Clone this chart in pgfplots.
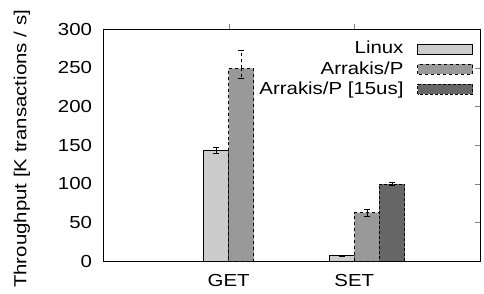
\documentclass[border=0pt]{standalone}
\usepackage{pgfplots}
\pgfplotsset{compat=1.18}
\usepackage{fontspec}
\setmainfont{Liberation Sans}[FakeStretch=1.17]
\definecolor{cLin}{HTML}{CCCCCC}
\definecolor{cArr}{HTML}{999999}
\definecolor{cArrF}{HTML}{666666}
\newcommand{\fs}{\fontsize{17.5}{20}\selectfont}
\begin{document}
\fs
\begin{tikzpicture}
\begin{axis}[
  at={(0,0)}, anchor=south west,
  scale only axis, width=377bp, height=232bp,
  xmin=0, xmax=3, ymin=0, ymax=300,
  xtick={1,2}, xticklabels={GET,SET},
  ytick={0,50,100,150,200,250,300},
  xtick pos=right, xticklabel pos=left,
  ytick pos=right, yticklabel pos=left,
  tick align=inside, major tick length=5bp,
  /pgf/number format/assume math mode=true,
  tick label style={font=\fs},
  yticklabel style={xshift=-5bp},
  xticklabel style={yshift=-2bp},
  ylabel={Throughput [K transactions / s]},
  ylabel style={at={(axis description cs:-0.215,0.483)}, anchor=center, font=\fs},
  axis line style={line width=0.9pt},
  ybar, bar width=25.1bp,
  legend cell align=right,
  legend plot pos=right,
  legend style={draw=none, fill=none, at={(axis description cs:0.99,0.965)}, anchor=north east, row sep=1bp, font=\fs},
  legend image code/.code={\path (0bp,0bp); \draw[#1] (12bp,-5bp) rectangle (67bp,5bp);},
  error bars/y dir=both, error bars/y explicit,
]
\addplot[bar shift=-12.57bp, fill=cLin, draw=black, line width=0.6pt,
  error bars/error bar style={solid, line width=0.6pt},
  error bars/error mark options={rotate=90, mark size=3bp, solid}]
  coordinates {(1,143) +- (0,4) (2,7) +- (0,1)};
\addlegendentry{Linux}
\addplot[bar shift=12.57bp, fill=cArr, draw=black, dashed, line width=0.6pt,
  error bars/error bar style={dashed, line width=0.6pt},
  error bars/error mark options={rotate=90, mark size=3bp, solid}]
  coordinates {(1,249) += (0,23) -= (0,12) (2,62.5) +- (0,4)};
\addlegendentry{Arrakis/P}
\addplot[bar shift=37.7bp, fill=cArrF, draw=black, densely dashed, line width=0.6pt,
  error bars/error bar style={densely dashed, line width=0.6pt},
  error bars/error mark options={rotate=90, mark size=3bp, solid}]
  coordinates {(2,99.6) +- (0,2)};
\addlegendentry{Arrakis/P [15us]}
\end{axis}
\path[use as bounding box] (-103bp,-31bp) rectangle (381bp,261bp);
\end{tikzpicture}
\end{document}
